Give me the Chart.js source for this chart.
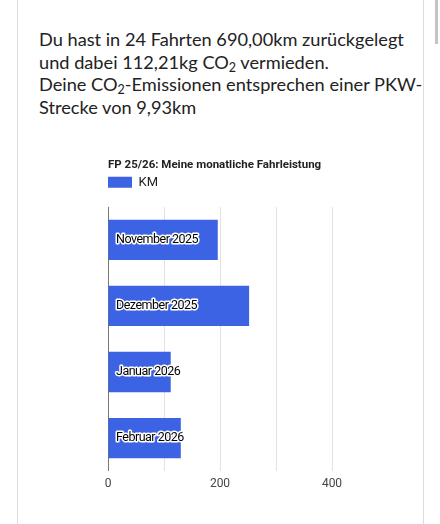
<!DOCTYPE html>
<html>
<head>
<meta charset="utf-8">
<script src="https://cdn.jsdelivr.net/npm/chart.js@4/dist/chart.umd.min.js"></script>
<style>
  html, body { margin: 0; padding: 0; background: #fff; }
  body { width: 440px; height: 524px; position: relative; overflow: hidden; }
  .card { position: absolute; left: 17px; top: -2px; width: 405px; height: 530px;
          border-left: 1px solid #ddd; border-right: 1px solid #ddd; }
  .scroll { position: absolute; left: 435px; top: 0; width: 3px; height: 44px; background: #c4c4c4; }
  .info { position: absolute; left: 39px; top: 28px; font-family: Lato, sans-serif; font-size: 18.2px;
          line-height: 22.7px; color: #222; }
  .info sub { font-size: 12.5px; vertical-align: -3px; line-height: 0; }
  #chartBox { position: absolute; left: 0; top: 145px; width: 440px; height: 379px; }
</style>
</head>
<body>
<div class="card"></div>
<div class="scroll"></div>
<div class="info">
  Du hast in 24 Fahrten 690,00km zurückgelegt<br>
  und dabei 112,21kg CO<sub>2</sub> vermieden.<br>
  Deine CO<sub>2</sub>-Emissionen entsprechen einer PKW-<br>
  Strecke von 9,93km
</div>
<div id="chartBox"><canvas id="kmChart"></canvas></div>
<script>
// chart data
const months = ["November 2025", "Dezember 2025", "Januar 2026", "Februar 2026"];
const kmValues = [196, 252, 112, 130];
const seriesName = "KM";
const chartTitle = "FP 25/26: Meine monatliche Fahrleistung";
const xTicks = [0, 200, 400];

// draws the month names inside the bars (white outlined text)
const insideLabels = {
    id: "insideLabels",
    afterDatasetsDraw(chart) {
        const ctx = chart.ctx;
        const xScale = chart.scales.x;
        const yScale = chart.scales.y;
        ctx.save();
        ctx.font = "12.5px Roboto";
        ctx.letterSpacing = "-0.5px";
        ctx.textBaseline = "middle";
        ctx.lineJoin = "round";
        months.forEach(function(name, i) {
            const x = xScale.getPixelForValue(0) + 8;
            const y = yScale.getPixelForValue(i);
            ctx.strokeStyle = "#fff";
            ctx.lineWidth = 3;
            ctx.strokeText(name, x, y);
            ctx.fillStyle = "#000";
            ctx.fillText(name, x, y);
        });
        ctx.restore();
    }
};

const ctx = document.getElementById("kmChart").getContext("2d");
new Chart(ctx, {
    type: "bar",
    data: {
        labels: months,
        datasets: [{
            label: seriesName,
            data: kmValues,
            backgroundColor: "#3b63e3",
            categoryPercentage: 0.61,
            barPercentage: 1.0
        }]
    },
    options: {
        indexAxis: "y",
        responsive: true,
        maintainAspectRatio: false,
        animation: false,
        layout: { padding: { left: 108, right: 108, top: 13, bottom: 26.5 } },
        plugins: {
            title: {
                display: true,
                text: chartTitle,
                align: "start",
                color: "#222",
                font: { family: "Roboto", size: 11.5, weight: "bold" },
                padding: { top: 0, bottom: 4 }
            },
            legend: {
                align: "start",
                labels: {
                    boxWidth: 24,
                    boxHeight: 11,
                    padding: 0,
                    color: "#222",
                    font: { family: "Roboto", size: 13 }
                }
            },
            tooltip: { enabled: false }
        },
        scales: {
            x: {
                min: 0,
                max: 400,
                ticks: {
                    stepSize: 100,
                    color: "#444",
                    padding: 6,
                    font: { family: "Roboto", size: 12 },
                    callback: function(v) { return xTicks.includes(v) ? v : ""; }
                },
                grid: {
                    drawTicks: false,
                    color: function(c) { return c.tick && c.tick.value === 0 ? "#777" : "#e2e2e2"; }
                },
                border: { display: false }
            },
            // empty box that only adds space between legend and plot
            gap: {
                type: "linear",
                axis: "x",
                position: "top",
                min: 0,
                max: 400,
                ticks: { display: false },
                grid: { display: false },
                border: { display: false },
                afterFit: function(scale) { scale.height = 8; }
            },
            y: {
                display: false
            }
        }
    },
    plugins: [insideLabels]
});
</script>
</body>
</html>
